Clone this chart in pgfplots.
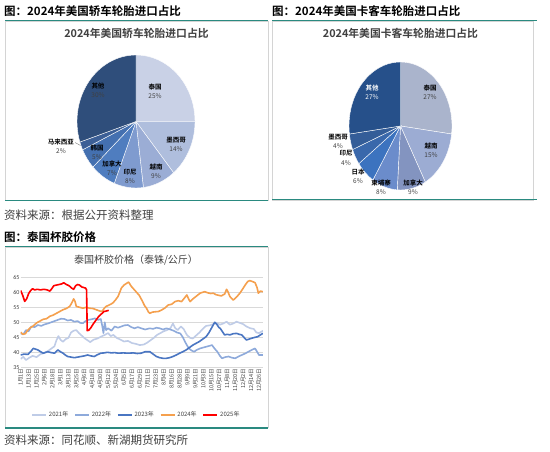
\documentclass[border=0pt]{standalone}
\usepackage{pgfplots}
\pgfplotsset{compat=1.18}
\usepackage{fontspec}
\setmainfont{Noto Sans CJK SC}[BoldFont={Noto Sans CJK SC Bold}]
\newfontfamily\carlito{Carlito}
\definecolor{tealc}{HTML}{2A8A80}
\definecolor{framec}{HTML}{D4D4D4}
\definecolor{gridc}{HTML}{D9D9D9}
\definecolor{txtc}{HTML}{404040}
\definecolor{pa1}{HTML}{C9D1E6}
\definecolor{pa2}{HTML}{AFBEDD}
\definecolor{pa3}{HTML}{9BADD5}
\definecolor{pa4}{HTML}{7F9BCF}
\definecolor{pa5}{HTML}{4F7DBF}
\definecolor{pa6}{HTML}{4470B0}
\definecolor{pa7}{HTML}{3C5F96}
\definecolor{pa8}{HTML}{2F4E7B}
\definecolor{pb1}{HTML}{AAB4CC}
\definecolor{pb2}{HTML}{9CACD3}
\definecolor{pb3}{HTML}{8394C0}
\definecolor{pb4}{HTML}{6B8CCB}
\definecolor{pb5}{HTML}{3C73BF}
\definecolor{pb6}{HTML}{3A68AB}
\definecolor{pb7}{HTML}{345D98}
\definecolor{pb8}{HTML}{26508A}
\definecolor{c21}{HTML}{BFCCE7}
\definecolor{c22}{HTML}{8EAADB}
\definecolor{c23}{HTML}{4A76C2}
\definecolor{c24}{HTML}{F5A04E}
\definecolor{c25}{HTML}{FF0000}
\newcommand\fs[1]{\fontsize{#1}{#1}\selectfont}
% start percent, end percent, colour, x radius, y radius
\newcommand\pieslice[5]{%
  \fill[#3,draw=white,line width=0.4pt] (axis cs:0,0) -- (axis cs:{cos(90-3.6*#1)},{sin(90-3.6*#1)})
    arc[start angle={90-3.6*#1}, end angle={90-3.6*#2}, x radius=#4pt, y radius=#5pt] -- cycle;}

\pgfplotstableread{
x y
0 37.8
4 38.5
8 37.4
13 38.2
18 38.8
24 38.4
30 39.4
36 39.8
41 40.4
46 41.2
51 42.0
54 44.0
57 45.4
60 44.2
64 43.5
68 44.4
72 44.8
76 46.6
80 47.2
84 47.4
88 46.4
92 45.6
97 44.6
101 44.0
105 43.4
110 44.2
116 44.6
122 45.3
127 45.8
132 46.4
136 45.4
140 45.8
145 44.8
150 44.3
156 43.6
162 43.8
168 43.1
174 42.8
180 42.4
186 42.6
191 43.2
196 44.0
201 44.8
206 45.8
211 46.4
216 47.0
221 47.4
226 48.0
230 49.6
233 48.2
237 47.4
242 48.6
246 47.8
251 45.8
256 44.8
260 44.6
265 45.6
270 46.6
275 47.8
280 48.8
286 49.0
291 49.4
296 49.8
301 49.2
306 49.6
311 50.2
316 49.2
321 49.6
326 50.2
331 49.8
336 49.4
341 48.6
347 48.0
352 47.8
356 46.6
360 46.4
366 47.2
}\tA
\pgfplotstableread{
x y
0 46.3
4 46.0
8 47.4
12 47.0
16 48.6
21 48.4
26 49.1
31 48.8
36 49.3
41 49.6
46 50.0
51 50.4
56 50.8
61 51.2
66 51.1
71 50.6
76 50.8
81 50.2
86 50.4
90 49.8
94 49.7
98 50.4
102 50.8
107 51.0
112 51.3
117 50.8
121 51.1
123 49.0
125 46.4
127 50.0
129 47.4
132 48.0
137 47.2
142 48.6
147 48.2
152 48.6
157 49.0
162 49.1
167 48.4
172 48.0
177 48.4
182 48.0
188 47.6
195 48.0
200 47.8
205 48.2
210 48.0
215 47.6
220 48.0
226 47.6
231 47.2
236 46.6
241 46.3
245 45.0
248 43.6
251 42.4
254 41.3
258 40.6
262 40.2
266 40.8
271 41.3
276 41.6
281 41.9
286 42.2
289 42.4
293 41.2
297 40.2
301 38.8
304 38.0
309 38.4
314 38.6
319 38.2
324 38.0
329 38.6
334 39.1
339 39.6
344 40.2
349 40.8
354 41.3
357 40.2
360 39.1
366 39.1
}\tB
\pgfplotstableread{
x y
0 39.1
5 39.4
11 39.3
15 40.2
19 41.3
23 41.0
26 40.8
30 40.2
34 39.7
38 40.0
41 40.2
46 39.9
51 39.7
56 40.8
60 40.2
64 39.7
68 39.0
71 38.6
76 38.4
81 38.2
86 38.4
91 38.6
96 38.8
101 39.1
106 38.8
111 38.6
116 39.2
121 39.7
126 39.8
131 40.0
137 39.8
142 39.9
147 39.7
155 39.8
162 39.7
170 39.8
176 39.6
182 39.7
188 40.2
195 40.2
200 39.4
205 38.6
210 38.2
215 38.0
220 38.0
225 38.2
230 38.6
235 39.1
240 39.7
245 40.2
250 40.8
255 41.6
260 42.4
265 43.0
270 43.6
275 44.4
280 45.2
284 46.4
288 48.0
291 49.2
293 50.0
296 49.4
299 48.4
302 47.8
305 46.8
308 45.8
312 46.0
316 45.8
321 46.2
326 46.3
330 46.0
334 45.8
338 44.8
341 44.1
345 44.4
349 44.7
354 45.0
358 45.2
362 45.8
366 46.3
}\tC
\pgfplotstableread{
x y
0 46.7
3 46.0
7 46.2
10 47.2
14 48.1
19 48.8
24 49.8
29 50.4
34 51.0
39 51.2
44 52.0
49 52.4
54 53.0
59 53.6
64 54.2
69 54.6
74 55.3
77 56.4
80 57.8
82 57.0
84 55.3
89 55.0
94 54.7
99 55.0
104 54.7
109 54.6
114 54.2
119 53.8
123 53.6
126 54.6
129 55.3
134 55.8
139 56.4
143 57.4
147 58.6
150 60.2
152 61.4
156 62.4
160 63.0
163 63.4
167 62.0
171 61.0
175 60.0
179 59.0
183 57.4
187 55.6
190 54.7
193 53.4
195 53.0
199 53.4
203 53.5
208 53.6
213 54.1
218 54.8
223 55.8
228 56.0
233 56.9
238 57.2
243 56.9
247 58.0
251 59.1
254 57.6
256 56.9
259 57.6
263 58.3
267 59.0
271 59.7
275 60.0
278 60.2
283 59.8
287 59.6
291 59.7
295 59.2
299 59.0
303 58.8
308 59.4
311 61.0
313 60.2
316 58.6
321 57.4
326 58.4
331 59.7
335 61.0
339 62.4
343 63.6
346 63.9
350 63.6
354 63.2
357 61.6
359 59.7
362 60.4
366 60.2
}\tD
\pgfplotstableread{
x y
0 60.6
3 59.0
6 57.0
9 57.8
12 59.6
15 60.6
18 61.2
21 60.8
25 61.0
30 60.8
35 61.0
40 60.8
44 60.4
47 61.2
50 62.2
54 62.4
58 62.6
62 62.8
65 63.2
69 62.6
73 62.2
77 61.4
80 61.0
83 62.2
86 62.6
89 62.4
92 61.8
95 61.6
98 61.4
99.5 60.8
100.5 47.2
103 47.4
106 48.2
110 49.6
114 50.8
118 52.0
122 52.8
126 53.6
130 53.8
133 54.0
}\tE

\begin{document}
\begin{tikzpicture}[x=1pt,y=1pt]
\useasboundingbox (0,0) rectangle (550,451);
\fill[white] (0,0) rectangle (550,451);

% ---------- headers ----------
\node[anchor=west,inner sep=0,font=\bfseries\fs{11.5}] at (4,439.5) {图：2024年美国轿车轮胎进口占比};
\node[anchor=west,inner sep=0,font=\bfseries\fs{11.5}] at (272,439.5) {图：2024年美国卡客车轮胎进口占比};
\draw[tealc,line width=1.5pt] (5,430.3) -- (268,430.3);
\draw[tealc,line width=1.5pt] (272,430.3) -- (537,430.3);

% panels
\draw[framec,line width=0.6pt] (5,251) rectangle (268,429.3);
\draw[framec,line width=0.6pt] (272,251) rectangle (533,429.3);
\draw[tealc,line width=1.5pt] (5,250.3) -- (268,250.3);
\draw[tealc,line width=1.5pt] (272,251.3) -- (537,251.3);

\node[inner sep=0,font=\bfseries\fs{10.8},text=txtc] at (136.5,418) {2024年美国轿车轮胎进口占比};
\node[inner sep=0,font=\bfseries\fs{10.8},text=txtc] at (400.5,418) {2024年美国卡客车轮胎进口占比};

% ---------- left pie ----------
\begin{axis}[at={(136pt,329.5pt)},anchor=center,scale only axis,width=118pt,height=133pt,
  xmin=-1,xmax=1,ymin=-1,ymax=1,hide axis,clip=false]
\pieslice{0}{25}{pa1}{59}{66.5}
\pieslice{25}{39}{pa2}{59}{66.5}
\pieslice{39}{48}{pa3}{59}{66.5}
\pieslice{48}{56}{pa4}{59}{66.5}
\pieslice{56}{63}{pa5}{59}{66.5}
\pieslice{63}{68}{pa6}{59}{66.5}
\pieslice{68}{70}{pa7}{59}{66.5}
\pieslice{70}{100}{pa8}{59}{66.5}
\end{axis}

% ---------- right pie ----------
\begin{axis}[at={(400.5pt,325pt)},anchor=center,scale only axis,width=103pt,height=128pt,
  xmin=-1,xmax=1,ymin=-1,ymax=1,hide axis,clip=false]
\pieslice{0}{27}{pb1}{51.5}{64}
\pieslice{27}{42}{pb2}{51.5}{64}
\pieslice{42}{51}{pb3}{51.5}{64}
\pieslice{51}{59}{pb4}{51.5}{64}
\pieslice{59}{65}{pb5}{51.5}{64}
\pieslice{65}{69}{pb6}{51.5}{64}
\pieslice{69}{73}{pb7}{51.5}{64}
\pieslice{73}{100}{pb8}{51.5}{64}
\end{axis}

% pie labels
\tikzset{pl/.style={align=center,inner sep=0,font=\fontsize{6.5}{9.3}\selectfont,text=txtc}}
\node[pl] at (155,359.5) {\textbf{\color{black}泰国}\\25\%};
\node[pl] at (176,306.5) {\textbf{\color{black}墨西哥}\\14\%};
\node[pl] at (156,280) {\textbf{\color{black}越南}\\9\%};
\node[pl] at (130,274.5) {\textbf{\color{black}印尼}\\8\%};
\node[pl] at (112,283) {\textbf{\color{black}加拿大}\\7\%};
\node[pl] at (97,299) {\textbf{\color{black}韩国}\\5\%};
\node[pl] at (61,304.5) {\textbf{\color{black}马来西亚}\\2\%};
\node[pl] at (98,361) {\textbf{\color{black}其他}\\30\%};
\draw[gray,line width=0.4pt] (75,308.5) -- (80.5,305.5);

\node[pl] at (430,359) {\textbf{\color{black}泰国}\\27\%};
\node[pl] at (431,300.5) {\textbf{\color{black}越南}\\15\%};
\node[pl] at (413,263.5) {\textbf{\color{black}加拿大}\\9\%};
\node[pl] at (381,263.5) {\textbf{\color{black}柬埔寨}\\8\%};
\node[pl] at (358,274.5) {\textbf{\color{black}日本}\\6\%};
\node[pl] at (346,293) {\textbf{\color{black}印尼}\\4\%};
\node[pl] at (338,309.5) {\textbf{\color{black}墨西哥}\\4\%};
\node[pl,text=white] at (372,359) {\textbf{其他}\\27\%};

% ---------- source & second header ----------
\node[anchor=west,inner sep=0,font=\fs{11.5},text=txtc] at (4,236) {资料来源：根据公开资料整理};
\node[anchor=west,inner sep=0,font=\bfseries\fs{11.5}] at (4,214.3) {图：泰国杯胶价格};
\draw[tealc,line width=1.5pt] (5,204.3) -- (268,204.3);
\draw[framec,line width=0.6pt] (5,23.5) rectangle (268,203.3);
\draw[tealc,line width=1.5pt] (5,23) -- (268,23);
\node[inner sep=0,font=\fs{10},text=txtc] at (136,191) {泰国杯胶价格（泰铢/公斤）};
\node[anchor=west,inner sep=0,font=\fs{11.5},text=txtc] at (4,11) {资料来源：同花顺、新湖期货研究所};

% ---------- line chart ----------
\begin{axis}[at={(20.7pt,83.7pt)},anchor=south west,scale only axis,width=242.3pt,height=90pt,
  xmin=0,xmax=366,ymin=35,ymax=65,
  ytick={35,40,...,65},
  xtick={0,12,...,360},
  xticklabels={1月1日,1月13日,1月25日,2月6日,2月18日,3月1日,3月13日,3月25日,4月6日,4月18日,4月30日,5月12日,5月24日,6月5日,6月17日,6月29日,7月11日,7月23日,8月4日,8月16日,8月28日,9月9日,9月21日,10月3日,10月15日,10月27日,11月8日,11月20日,12月2日,12月14日,12月26日},
  ymajorgrids,grid style={draw=gridc,line width=0.5pt},
  axis line style={draw=none},major tick length=0pt,
  /pgf/number format/assume math mode=true,
  yticklabel style={font=\carlito\fs{6},text=txtc,inner sep=1pt},
  xticklabel style={rotate=90,anchor=east,font=\fs{5.5},text=txtc,inner sep=1pt},
  legend columns=5,
  legend style={at={(0.478,-0.53)},anchor=center,draw=none,fill=none,font=\fs{6},text=txtc,
    /tikz/every even column/.append style={column sep=4pt}},
  legend image code/.code={\draw[#1,line width=1.5pt] (0pt,0pt) -- (14pt,0pt);},
  every axis plot/.append style={line width=1.6pt,line join=round,no markers}]
\addplot[c21] table[x=x,y=y] {\tA};
\addplot[c22] table[x=x,y=y] {\tB};
\addplot[c23] table[x=x,y=y] {\tC};
\addplot[c24] table[x=x,y=y] {\tD};
\addplot[c25] table[x=x,y=y] {\tE};
\legend{2021年,2022年,2023年,2024年,2025年}
\end{axis}
\end{tikzpicture}
\end{document}
